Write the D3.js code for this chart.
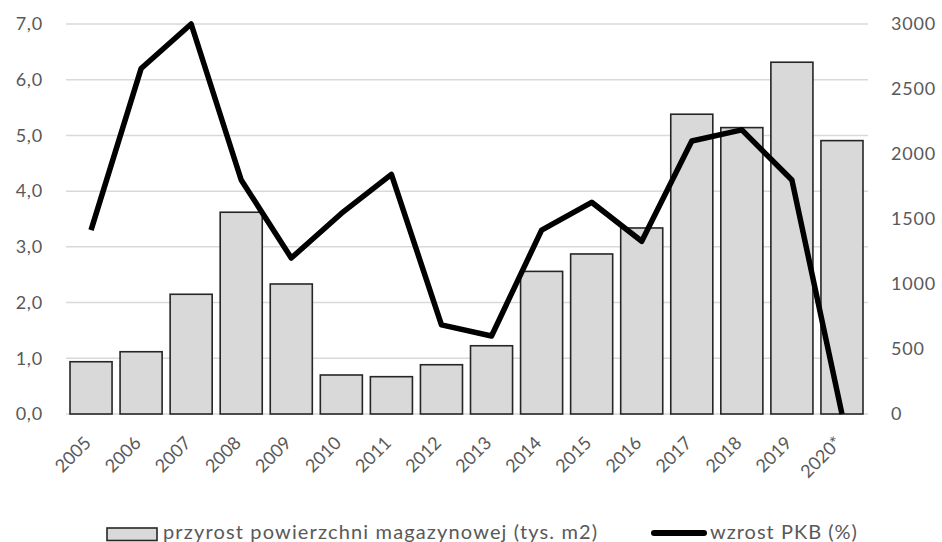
<!DOCTYPE html>
<html><head><meta charset="utf-8">
<script src="https://cdn.jsdelivr.net/npm/d3@7"></script>
<style>
html,body{margin:0;padding:0;background:#fff;}
text{font-family:Lato,"Open Sans",sans-serif;fill:#595959;}
</style></head>
<body><svg id="c" width="942" height="542"></svg>
<script>
const years = ["2005","2006","2007","2008","2009","2010","2011","2012","2013","2014","2015","2016","2017","2018","2019","2020*"];
const warehouse = [402,479,921,1552,1000,300,287,379,525,1097,1231,1431,2306,2203,2706,2103];
const gdp = [3.3,6.2,7.0,4.2,2.8,3.6,4.3,1.6,1.4,3.3,3.8,3.1,4.9,5.1,4.2,0.0];
const leftTicks = [0,1,2,3,4,5,6,7];
const rightTicks = [0,500,1000,1500,2000,2500,3000];
const seriesNames = ["przyrost powierzchni magazynowej (tys. m2)","wzrost PKB (%)"];

const svg = d3.select("#c");
const L=66,R=867,T=24,B=414;
const x = d3.scaleBand().domain(years).range([L,R]).paddingInner(0.16).paddingOuter(0.08);
const yL = d3.scaleLinear().domain([0,7]).range([B,T]);
const yR = d3.scaleLinear().domain([0,3000]).range([B,T]);
const fmt = d => d.toFixed(1).replace(".",",");

// gridlines
svg.append("g").selectAll("line").data(leftTicks).join("line")
  .attr("x1",L).attr("x2",R+1).attr("y1",d=>yL(d)).attr("y2",d=>yL(d))
  .attr("stroke","#d9d9d9").attr("stroke-width",1.5);

// left axis
const gl = svg.append("g").attr("transform",`translate(43,0)`)
  .call(d3.axisLeft(yL).tickValues(leftTicks).tickFormat(fmt).tickSize(0).tickPadding(0));
gl.select(".domain").remove();
gl.selectAll("text").attr("font-size",18).attr("fill","#595959").attr("font-family","Lato")
  .attr("letter-spacing",0.8);

// right axis
const gr = svg.append("g").attr("transform",`translate(891,0)`)
  .call(d3.axisRight(yR).tickValues(rightTicks).tickFormat(d3.format("d")).tickSize(0).tickPadding(0));
gr.select(".domain").remove();
gr.selectAll("text").attr("font-size",18).attr("fill","#595959").attr("font-family","Lato")
  .attr("letter-spacing",0.8);

// bars
svg.append("g").selectAll("rect").data(years).join("rect")
  .attr("x",d=>x(d)).attr("width",x.bandwidth())
  .attr("y",(d,i)=>yR(warehouse[i])).attr("height",(d,i)=>B-yR(warehouse[i]))
  .attr("fill","#d9d9d9").attr("stroke","#262626").attr("stroke-width",1.6);

// line
const line = d3.line().x((d,i)=>x(years[i])+x.bandwidth()/2).y(d=>yL(d));
svg.append("path").datum(gdp).attr("d",line).attr("fill","none")
  .attr("stroke","#000").attr("stroke-width",5.5).attr("stroke-linejoin","round");

// x labels
const gx = svg.append("g").attr("transform",`translate(0,${B})`)
  .call(d3.axisBottom(x).tickSize(0).tickPadding(0));
gx.select(".domain").remove();
gx.selectAll("text").attr("font-size",18).attr("fill","#595959").attr("font-family","Lato")
  .attr("text-anchor","end").attr("dy",null).attr("y",null).attr("x",null)
  .attr("transform","translate(1,30) rotate(-45)");

// legend
const lg = svg.append("g");
lg.append("rect").attr("x",107).attr("y",528).attr("width",50).attr("height",12.5)
  .attr("fill","#d9d9d9").attr("stroke","#262626").attr("stroke-width",1.6);
lg.append("text").attr("x",163).attr("y",539).attr("font-size",20).attr("letter-spacing",1.15)
  .text(seriesNames[0]);
lg.append("line").attr("x1",654).attr("x2",704).attr("y1",533).attr("y2",533)
  .attr("stroke","#000").attr("stroke-width",6).attr("stroke-linecap","round");
lg.append("text").attr("x",710).attr("y",539).attr("font-size",20).attr("letter-spacing",1)
  .text(seriesNames[1]);
</script></body></html>
